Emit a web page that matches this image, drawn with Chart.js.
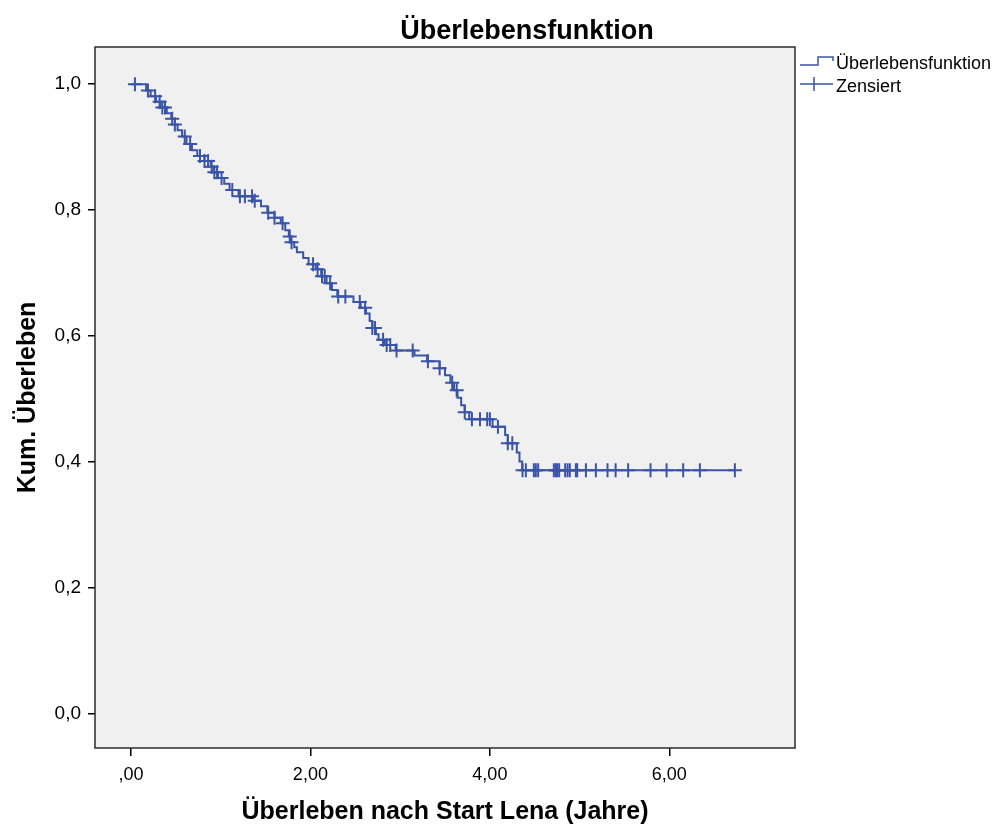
<!DOCTYPE html>
<html>
<head>
<meta charset="utf-8">
<script src="https://cdn.jsdelivr.net/npm/chart.js@4"></script>
<style>
  body { margin: 0; background: #fff; }
  #wrap { width: 1000px; height: 830px; }
</style>
</head>
<body>
<div id="wrap"><canvas id="kmChart"></canvas></div>
<script>
// Kaplan-Meier steps: time of each drop and survival after it
const eventTimes = [0.17, 0.22, 0.28, 0.33, 0.40, 0.45, 0.49, 0.52, 0.57, 0.62,
                    0.68, 0.74, 0.82, 0.89, 0.92, 0.97, 1.04, 1.10, 1.20, 1.36,
                    1.45, 1.52, 1.60, 1.67, 1.72, 1.76, 1.78, 1.82, 1.85, 1.92,
                    1.98, 2.06, 2.12, 2.18, 2.24, 2.30, 2.48, 2.56, 2.62, 2.66,
                    2.69, 2.73, 2.76, 2.83, 2.95, 3.16, 3.30, 3.44, 3.50, 3.56,
                    3.60, 3.64, 3.68, 3.72, 3.77, 4.03, 4.17, 4.20, 4.30, 4.33, 4.36];
const survival = [0.990, 0.981, 0.972, 0.963, 0.954, 0.945, 0.936, 0.927, 0.917, 0.905,
                  0.895, 0.886, 0.878, 0.869, 0.860, 0.851, 0.842, 0.832, 0.822, 0.815,
                  0.806, 0.796, 0.788, 0.779, 0.768, 0.758, 0.749, 0.741, 0.733, 0.724,
                  0.714, 0.706, 0.695, 0.684, 0.673, 0.663, 0.654, 0.645, 0.636, 0.624,
                  0.613, 0.603, 0.594, 0.586, 0.577, 0.569, 0.560, 0.549, 0.538, 0.526,
                  0.514, 0.502, 0.490, 0.479, 0.468, 0.456, 0.443, 0.430, 0.415, 0.401, 0.387];
const lastTime = 6.73;

// censored observations (times)
const censorTimes = [0.045, 0.19, 0.27, 0.32, 0.35, 0.38, 0.46, 0.49, 0.60, 0.66,
                     0.77, 0.82, 0.86, 0.90, 0.93, 0.96, 1.01, 1.13, 1.215, 1.27,
                     1.35, 1.38, 1.53, 1.60, 1.69, 1.77, 1.79, 2.03, 2.08, 2.13,
                     2.16, 2.22, 2.31, 2.39, 2.55, 2.61, 2.69, 2.72, 2.81, 2.85,
                     2.89, 2.96, 3.14, 3.31, 3.44, 3.58, 3.63, 3.72, 3.80, 3.89,
                     3.97, 4.00, 4.09, 4.20, 4.25,
                     4.364, 4.401, 4.49, 4.512, 4.538, 4.713, 4.735, 4.75, 4.772, 4.839,
                     4.866, 4.891, 4.958, 4.973, 5.07, 5.181, 5.311, 5.401, 5.541, 5.79,
                     5.969, 6.154, 6.34, 6.73];

const xTicks = [0, 2, 4, 6];
const yTicks = [0, 0.2, 0.4, 0.6, 0.8, 1.0];

const lineColor = '#3a54a8';

function survAt(t) {
  let s = 1;
  for (let i = 0; i < eventTimes.length; i++) {
    if (eventTimes[i] <= t) s = survival[i];
  }
  return s;
}

const stepData = [{x: 0, y: 1}];
eventTimes.forEach((t, i) => stepData.push({x: t, y: survival[i]}));
stepData.push({x: lastTime, y: survival[survival.length - 1]});

const censorData = censorTimes.map(t => ({x: t, y: survAt(t)}));

function fmtComma(v, d) {
  let s = v.toFixed(d).replace('.', ',');
  if (s.startsWith('0,') && d === 2) s = s.slice(1);
  return s;
}

const plotFrame = {
  id: 'plotFrame',
  beforeDraw(chart) {
    const {ctx, chartArea: a} = chart;
    ctx.save();
    ctx.fillStyle = '#f0f0f0';
    ctx.fillRect(a.left, a.top, a.right - a.left, a.bottom - a.top);
    ctx.restore();
  },
  afterDraw(chart) {
    const {ctx, chartArea: a} = chart;
    ctx.save();
    ctx.strokeStyle = '#2b2b2b';
    ctx.lineWidth = 1.5;
    ctx.strokeRect(a.left, a.top, a.right - a.left, a.bottom - a.top);

    // title
    ctx.fillStyle = '#000';
    ctx.font = 'bold 27px "Liberation Sans", Arial, sans-serif';
    ctx.textAlign = 'center';
    ctx.textBaseline = 'alphabetic';
    ctx.fillText('Überlebensfunktion', 527, 39);

    // legend
    ctx.strokeStyle = lineColor;
    ctx.lineWidth = 1.5;
    ctx.beginPath();
    ctx.moveTo(800, 65);
    ctx.lineTo(818, 65);
    ctx.lineTo(818, 57);
    ctx.lineTo(833, 57);
    ctx.lineTo(833, 61);
    ctx.stroke();
    ctx.beginPath();
    ctx.moveTo(800, 84);
    ctx.lineTo(833, 84);
    ctx.moveTo(814, 77);
    ctx.lineTo(814, 91);
    ctx.stroke();
    ctx.font = '18px "Liberation Sans", Arial, sans-serif';
    ctx.textAlign = 'left';
    ctx.fillText('Überlebensfunktion', 836, 69);
    ctx.fillText('Zensiert', 836, 92);
    ctx.restore();
  }
};

new Chart(document.getElementById('kmChart'), {
  type: 'scatter',
  data: {
    datasets: [{
      label: 'Überlebensfunktion',
      data: stepData,
      showLine: true,
      stepped: 'before',
      borderColor: lineColor,
      borderWidth: 2,
      pointRadius: 0,
      fill: false
    }, {
      label: 'Zensiert',
      data: censorData,
      showLine: false,
      pointStyle: 'cross',
      pointRadius: 7,
      pointBorderWidth: 2,
      borderColor: lineColor,
      backgroundColor: lineColor
    }]
  },
  plugins: [plotFrame],
  options: {
    responsive: true,
    maintainAspectRatio: false,
    animation: false,
    events: [],
    layout: { padding: { top: 47, right: 205, left: 0, bottom: 0 } },
    plugins: {
      legend: { display: false },
      title: { display: false },
      tooltip: { enabled: false }
    },
    scales: {
      x: {
        type: 'linear',
        min: -0.4,
        max: 7.4,
        afterBuildTicks: scale => { scale.ticks = xTicks.map(v => ({value: v})); },
        afterFit: scale => { scale.height = 82; },
        ticks: {
          color: '#000',
          font: { family: '"Liberation Sans", Arial, sans-serif', size: 18 },
          padding: 8,
          maxRotation: 0,
          callback: v => fmtComma(v, 2)
        },
        grid: { drawOnChartArea: false, drawTicks: true, tickLength: 8, color: '#000', lineWidth: 1.5 },
        border: { display: false },
        title: {
          display: true,
          text: 'Überleben nach Start Lena (Jahre)',
          color: '#000',
          font: { family: '"Liberation Sans", Arial, sans-serif', size: 25, weight: 'bold' },
          padding: { top: 4, bottom: 3 }
        }
      },
      y: {
        min: -0.054,
        max: 1.059,
        afterBuildTicks: scale => { scale.ticks = yTicks.map(v => ({value: v})); },
        afterFit: scale => { scale.width = 95; },
        ticks: {
          color: '#000',
          font: { family: '"Liberation Sans", Arial, sans-serif', size: 19 },
          padding: 7,
          callback: v => fmtComma(v, 1)
        },
        grid: { drawOnChartArea: false, drawTicks: true, tickLength: 7, color: '#000', lineWidth: 1.5 },
        border: { display: false },
        title: {
          display: true,
          text: 'Kum. Überleben',
          color: '#000',
          font: { family: '"Liberation Sans", Arial, sans-serif', size: 25, weight: 'bold' },
          padding: { top: 13, bottom: 0 }
        }
      }
    }
  }
});
</script>
</body>
</html>
